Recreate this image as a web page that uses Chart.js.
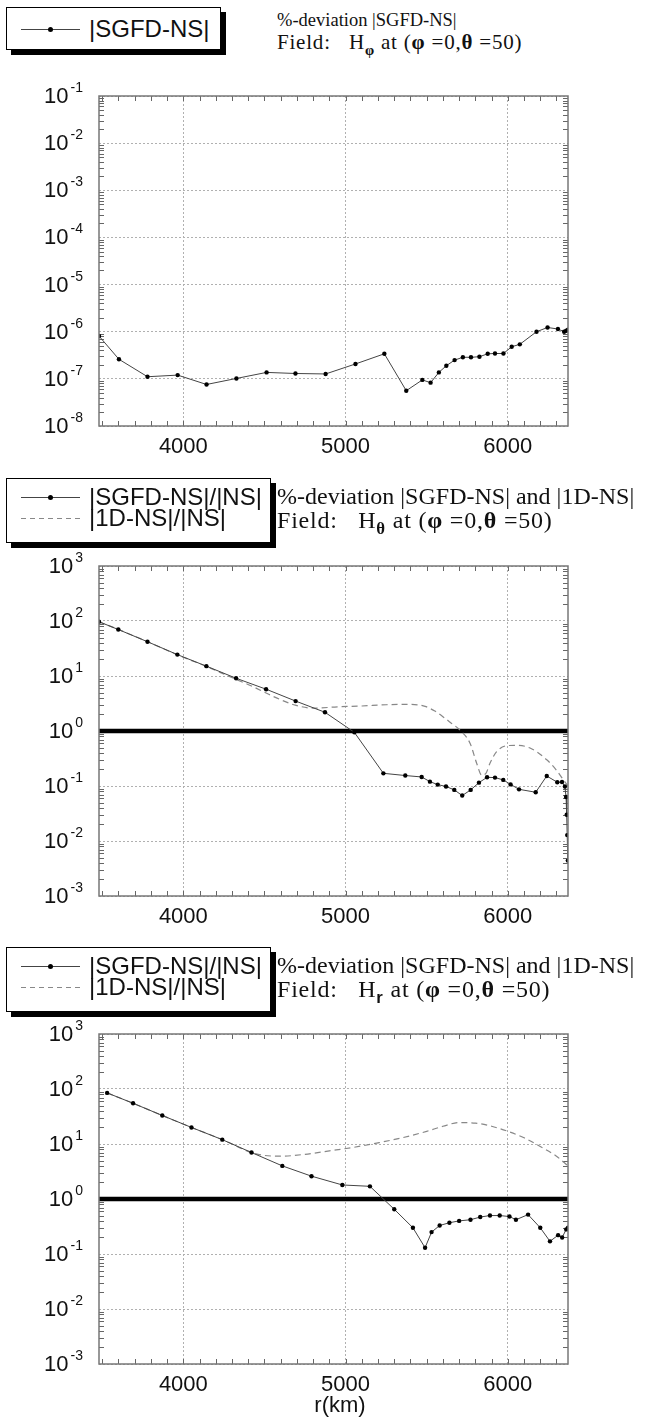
<!DOCTYPE html>
<html>
<head>
<meta charset="utf-8">
<script src="https://cdn.jsdelivr.net/npm/chart.js@4.4.0/dist/chart.umd.min.js"></script>
<style>
  body { margin: 0; background: #fff; }
  #page { position: relative; width: 647px; height: 1419px; overflow: hidden; background: #fff; }
  canvas { position: absolute; left: 0; z-index: 1; }
  .box { position: absolute; left: 6px; box-sizing: border-box; background: #fff;
         border: 1.5px solid #000; box-shadow: 5px 5px 0 #000; z-index: 2; }
  .ltext { position: absolute; left: 89px; font-family: "Liberation Sans", Arial, sans-serif;
           font-size: 24px; line-height: 28px; color: #111; z-index: 3; white-space: nowrap; }
  .solid { position: absolute; left: 21px; width: 59px; height: 1px; background: #444; z-index: 3; }
  .dot { position: absolute; left: 48px; width: 5px; height: 5px; border-radius: 50%; background: #000; z-index: 3; }
  .dash { position: absolute; left: 21px; width: 61px; height: 1px; z-index: 3;
          background: repeating-linear-gradient(to right, #888 0 5px, transparent 5px 9px); }
  .title { position: absolute; left: 277px; font-family: "Liberation Serif", "Times New Roman", serif;
           font-size: 24px; line-height: 26px; color: #111; z-index: 3; white-space: nowrap; }
  .title sub { font-size: 70%; vertical-align: -6px; line-height: 0; }
  .title b { font-weight: bold; }
  .wide { letter-spacing: 0.8px; }
</style>
</head>
<body>
<div id="page">
  <canvas id="phiChart" width="647" height="420" style="top:60px"></canvas>
  <canvas id="thetaChart" width="647" height="395" style="top:545px"></canvas>
  <canvas id="rChart" width="647" height="406" style="top:1013px"></canvas>

  <!-- panel 1 legend + title -->
  <div class="box" style="top:7px;height:43px;width:215px"></div>
  <div class="solid" style="top:29px"></div><div class="dot" style="top:27px"></div>
  <div class="ltext" style="top:15px">|SGFD-NS|</div>
  <div class="title" style="top:9px;font-size:18.5px;line-height:22px">%-deviation |SGFD-NS|</div>
  <div class="title wide" style="top:31px;font-size:21px;line-height:22px">Field:&nbsp;&nbsp; H<sub><b>φ</b></sub> at (<b>φ</b> =0,<b>θ</b> =50)</div>

  <!-- panel 2 legend + title -->
  <div class="box" style="top:478px;height:65px;width:265px"></div>
  <div class="solid" style="top:497px"></div><div class="dot" style="top:495px"></div>
  <div class="ltext" style="top:483px">|SGFD-NS|/|NS|</div>
  <div class="dash" style="top:518px"></div>
  <div class="ltext" style="top:504px">|1D-NS|/|NS|</div>
  <div class="title" style="top:483px">%-deviation |SGFD-NS| and |1D-NS|</div>
  <div class="title wide" style="top:507px">Field:&nbsp;&nbsp; H<sub><b>θ</b></sub> at (<b>φ</b> =0,<b>θ</b> =50)</div>

  <!-- panel 3 legend + title -->
  <div class="box" style="top:947px;height:65px;width:265px"></div>
  <div class="solid" style="top:966px"></div><div class="dot" style="top:964px"></div>
  <div class="ltext" style="top:952px">|SGFD-NS|/|NS|</div>
  <div class="dash" style="top:987px"></div>
  <div class="ltext" style="top:973px">|1D-NS|/|NS|</div>
  <div class="title" style="top:952px">%-deviation |SGFD-NS| and |1D-NS|</div>
  <div class="title wide" style="top:976px">Field:&nbsp;&nbsp; H<sub style="font-family:'Liberation Sans',Arial,sans-serif;font-weight:bold">r</sub> at (<b>φ</b> =0,<b>θ</b> =50)</div>
</div>

<script>
// ===== DATA =====
const rRange = [3480, 6371];
const rTicks = [4000, 5000, 6000];
const phiExps = [-8, -7, -6, -5, -4, -3, -2, -1];
const devExps = [-3, -2, -1, 0, 1, 2, 3];
const refLine = [1, 1];

// H_phi, |SGFD-NS|
const phiR = [3480, 3603, 3779, 3965, 4143, 4327, 4513, 4691, 4877, 5061, 5239, 5374, 5473, 5524, 5575,
              5621, 5672, 5723, 5773, 5825, 5876, 5921, 5973, 6024, 6074, 6177, 6245, 6309, 6347, 6360, 6371];
const phiSGFD = [8.1e-7, 2.6e-7, 1.11e-7, 1.2e-7, 7.6e-8, 1.02e-7, 1.37e-7, 1.3e-7, 1.27e-7, 2.07e-7, 3.4e-7,
                 5.6e-8, 9.5e-8, 8.3e-8, 1.37e-7, 1.9e-7, 2.5e-7, 2.87e-7, 2.87e-7, 2.95e-7, 3.4e-7, 3.45e-7,
                 3.45e-7, 4.8e-7, 5.4e-7, 1.0e-6, 1.23e-6, 1.14e-6, 1.0e-6, 1.05e-6, 1.1e-6];

// H_theta, |SGFD-NS|/|NS|
const thetaR = [3480, 3599, 3779, 3963, 4142, 4325, 4510, 4692, 4873, 5054, 5233, 5368, 5469, 5520, 5568, 5619,
                5670, 5719, 5771, 5822, 5872, 5921, 5972, 6017, 6069, 6172, 6240, 6305, 6334, 6352, 6359, 6363,
                6366, 6370];
const thetaSGFD = [97, 70, 42, 24.5, 15.1, 9.1, 5.75, 3.5, 2.19, 0.945, 0.17, 0.155, 0.146, 0.12, 0.106, 0.098,
                   0.085, 0.067, 0.085, 0.115, 0.144, 0.142, 0.129, 0.107, 0.087, 0.077, 0.152, 0.117, 0.118,
                   0.098, 0.063, 0.03, 0.0128, 0.0044];
// H_theta, |1D-NS|/|NS|
const theta1DR = [3480, 3600, 3780, 3960, 4140, 4320, 4420, 4510, 4600, 4690, 4800, 4950, 5100, 5250, 5400,
                  5490, 5550, 5600, 5650, 5705, 5767, 5808, 5839, 5865, 5890, 5931, 5993, 6055, 6137, 6240,
                  6302, 6342, 6371];
const theta1D = [97, 70, 42, 24.5, 15, 8.8, 6.6, 4.9, 3.7, 2.95, 2.6, 2.75, 2.85, 3.0, 3.05, 2.8, 2.3, 1.82,
                 1.4, 1.04, 0.6, 0.26, 0.158, 0.17, 0.26, 0.42, 0.54, 0.55, 0.49, 0.3, 0.19, 0.13, 0.1];

// H_r, |SGFD-NS|/|NS|
const hrR = [3530, 3690, 3870, 4050, 4240, 4420, 4610, 4790, 4980, 5150, 5300, 5415, 5490, 5530, 5580, 5640,
             5700, 5770, 5830, 5890, 5950, 6010, 6050, 6125, 6200, 6260, 6310, 6335, 6360, 6371];
const hrSGFD = [85, 55, 33, 20, 12, 7, 4, 2.6, 1.8, 1.7, 0.65, 0.3, 0.13, 0.25, 0.33, 0.37, 0.4, 0.42, 0.47,
                0.5, 0.5, 0.48, 0.42, 0.52, 0.3, 0.17, 0.22, 0.2, 0.28, 0.3];
// H_r, |1D-NS|/|NS|
const hr1DR = [3530, 3690, 3870, 4050, 4240, 4420, 4500, 4600, 4750, 4900, 5050, 5200, 5350, 5500, 5600, 5700,
               5800, 5900, 6000, 6100, 6200, 6300, 6371];
const hr1D = [85, 55, 33, 20, 12, 7, 6.2, 6.0, 6.5, 7.5, 8.7, 10.5, 13, 17, 21, 24.5, 24, 21, 17, 13, 9, 6, 4];

const SANS = '"Liberation Sans", Arial, sans-serif';

function pts(xs, ys) {
    return xs.map(function(x, i) { return { x: x, y: ys[i] }; });
}

// ===== FRAME, INWARD TICKS AND LABELS =====
const decor = {
    id: 'decor',
    beforeDatasetsDraw: function(chart, args, opts) {
        const a = chart.chartArea, ctx = chart.ctx;
        const xs = chart.scales.x, ys = chart.scales.y;
        ctx.save();
        ctx.strokeStyle = '#666';
        ctx.lineWidth = 1;
        ctx.beginPath();
        for (let r = 3500; r < rRange[1]; r += 100) {
            const px = Math.round(xs.getPixelForValue(r)) + 0.5;
            ctx.moveTo(px, a.bottom); ctx.lineTo(px, a.bottom - 5);
            ctx.moveTo(px, a.top); ctx.lineTo(px, a.top + 5);
        }
        const e = opts.exps;
        for (let i = 0; i < e.length - 1; i++) {
            for (let k = 2; k <= 9; k++) {
                const py = Math.round(ys.getPixelForValue(k * Math.pow(10, e[i]))) + 0.5;
                ctx.moveTo(a.left, py); ctx.lineTo(a.left + 5, py);
                ctx.moveTo(a.right, py); ctx.lineTo(a.right - 5, py);
            }
        }
        ctx.stroke();
        ctx.restore();
    },
    afterDraw: function(chart, args, opts) {
        const a = chart.chartArea, ctx = chart.ctx;
        const xs = chart.scales.x, ys = chart.scales.y;
        ctx.save();
        ctx.strokeStyle = '#777';
        ctx.lineWidth = 1.5;
        ctx.strokeRect(a.left, a.top, a.right - a.left, a.bottom - a.top);

        ctx.fillStyle = '#111';
        // y labels: 10 with superscript exponent
        opts.exps.forEach(function(e) {
            const py = ys.getPixelForValue(Math.pow(10, e));
            ctx.font = '14px ' + SANS;
            const sup = String(e);
            const sw = ctx.measureText(sup).width;
            ctx.font = '22px ' + SANS;
            const bw = ctx.measureText('10').width;
            const right = 83;
            ctx.textAlign = 'left';
            ctx.textBaseline = 'alphabetic';
            ctx.fillText('10', right - sw - 2 - bw, py + 7);
            ctx.font = '14px ' + SANS;
            ctx.fillText(sup, right - sw, py - 4);
        });
        // x labels
        ctx.font = '22px ' + SANS;
        ctx.textAlign = 'center';
        ctx.textBaseline = 'middle';
        rTicks.forEach(function(v) {
            ctx.fillText(String(v), xs.getPixelForValue(v), a.bottom + 21);
        });
        if (opts.xTitle) {
            ctx.fillText(opts.xTitle, 340, a.bottom + 42);
        }
        ctx.restore();
    }
};

function makePanel(id, exps, datasets, pad, xTitle) {
    return new Chart(document.getElementById(id), {
        type: 'line',
        data: { datasets: datasets },
        plugins: [decor],
        options: {
            responsive: false,
            devicePixelRatio: 1,
            animation: false,
            events: [],
            layout: { padding: { left: 99, right: 79, top: pad[0], bottom: pad[1] } },
            plugins: {
                legend: { display: false },
                tooltip: { enabled: false },
                decor: { exps: exps, xTitle: xTitle }
            },
            scales: {
                x: {
                    type: 'linear',
                    min: rRange[0],
                    max: rRange[1],
                    afterBuildTicks: function(s) { s.ticks = rTicks.map(function(v) { return { value: v }; }); },
                    ticks: { display: false },
                    grid: { color: '#b0b0b0', lineWidth: 1, drawTicks: false },
                    border: { display: false, dash: [2, 2] }
                },
                y: {
                    type: 'logarithmic',
                    min: Math.pow(10, exps[0]),
                    max: Math.pow(10, exps[exps.length - 1]),
                    afterBuildTicks: function(s) { s.ticks = exps.map(function(e) { return { value: Math.pow(10, e) }; }); },
                    ticks: { display: false },
                    grid: { color: '#b0b0b0', lineWidth: 1, drawTicks: false },
                    border: { display: false, dash: [2, 2] }
                }
            }
        }
    });
}

function solidSet(xs, ys) {
    return { data: pts(xs, ys), borderColor: '#444', borderWidth: 1, pointRadius: 2.2,
             pointBackgroundColor: '#000', pointBorderWidth: 0, tension: 0 };
}
function dashSet(xs, ys) {
    return { data: pts(xs, ys), borderColor: '#888', borderWidth: 1.2, borderDash: [6, 4],
             pointRadius: 0, cubicInterpolationMode: 'monotone' };
}
function refSet() {
    return { data: pts(rRange, refLine), borderColor: '#000', borderWidth: 4.5, pointRadius: 0 };
}

makePanel('phiChart', phiExps, [solidSet(phiR, phiSGFD)], [36, 54], '');
makePanel('thetaChart', devExps, [solidSet(thetaR, thetaSGFD), dashSet(theta1DR, theta1D), refSet()], [21, 44], '');
makePanel('rChart', devExps, [solidSet(hrR, hrSGFD), dashSet(hr1DR, hr1D), refSet()], [21, 55], 'r(km)');
</script>
</body>
</html>
